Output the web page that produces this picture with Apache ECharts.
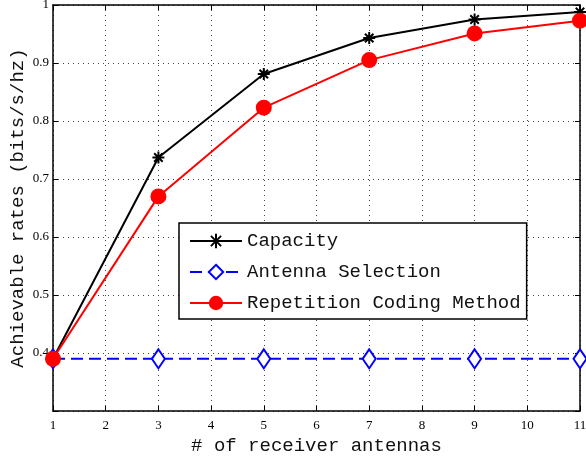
<!DOCTYPE html>
<html><head><meta charset="utf-8">
<script src="https://cdn.jsdelivr.net/npm/echarts@6/dist/echarts.min.js"></script>
<style>html,body{margin:0;padding:0;background:#fff}#c{width:586px;height:460px}</style>
</head><body><div id="c"></div>
<script>
const antennas = [1, 3, 5, 7, 9, 11];
const capacity = [0.39, 0.737, 0.881, 0.943, 0.975, 0.988];
const antennaSelection = [0.39, 0.39, 0.39, 0.39, 0.39, 0.39];
const repetitionCoding = [0.39, 0.670, 0.823, 0.905, 0.951, 0.973];
const xTicks = [1, 2, 3, 4, 5, 6, 7, 8, 9, 10, 11];
const yTicks = [0.3, 0.4, 0.5, 0.6, 0.7, 0.8, 0.9, 1];

const pair = (ys) => antennas.map((x, i) => [x, ys[i]]);
const mono = 'Liberation Mono, Courier New, monospace';
const serif = 'Liberation Serif, Times New Roman, serif';
const star = 'path://M0,-10L0,10M-10,0L10,0M-7.07,-7.07L7.07,7.07M-7.07,7.07L7.07,-7.07';

const chart = echarts.init(document.getElementById('c'), null, {renderer: 'canvas'});
const axisCommon = {
  axisLine: {show: true, onZero: false, lineStyle: {color: '#000', width: 1.5}},
  axisTick: {show: true, inside: true, length: 5, lineStyle: {color: '#000'}},
};
chart.setOption({
  animation: false,
  backgroundColor: '#fff',
  grid: {left: 53, right: 6, top: 5, bottom: 49, containLabel: false, outerBoundsMode: 'none'},
  xAxis: [
    Object.assign({
      type: 'value', min: xTicks[0], max: xTicks[xTicks.length - 1], interval: 1,
      position: 'bottom',
      name: '# of receiver antennas', nameLocation: 'middle', nameGap: 23,
      nameTextStyle: {fontFamily: mono, fontSize: 19, color: '#111'},
      axisLabel: {fontFamily: serif, fontSize: 13, color: '#000', margin: 8},
      splitLine: {show: true, lineStyle: {color: '#444', type: [1, 4], width: 1}},
    }, axisCommon),
    Object.assign({
      type: 'value', min: xTicks[0], max: xTicks[xTicks.length - 1], interval: 1,
      position: 'top', axisLabel: {show: false}, splitLine: {show: false},
    }, axisCommon),
  ],
  yAxis: [
    Object.assign({
      type: 'value', min: yTicks[0], max: yTicks[yTicks.length - 1], interval: 0.1,
      position: 'left',
      name: 'Achievable rates (bits/s/hz)', nameLocation: 'middle', nameGap: 26,
      nameMoveOverlap: false,
      nameTextStyle: {fontFamily: mono, fontSize: 19, color: '#111'},
      axisLabel: {fontFamily: serif, fontSize: 13, color: '#000', margin: 4,
        formatter: (v) => (Math.abs(v - yTicks[0]) < 1e-9 ? '' : String(Math.round(v * 10) / 10))},
      splitLine: {show: true, lineStyle: {color: '#444', type: [1, 4], width: 1}},
    }, axisCommon),
    Object.assign({
      type: 'value', min: yTicks[0], max: yTicks[yTicks.length - 1], interval: 0.1,
      position: 'right', axisLabel: {show: false}, splitLine: {show: false},
    }, axisCommon),
  ],
  legend: {
    orient: 'vertical', left: 179, top: 223,
    backgroundColor: '#fff', borderColor: '#000', borderWidth: 1.5,
    padding: [8, 6, 6, 10], itemGap: 11, itemWidth: 52, itemHeight: 18,
    textStyle: {fontFamily: mono, fontSize: 19, color: '#111', lineHeight: 20},
    data: ['Capacity', 'Antenna Selection', 'Repetition Coding Method'],
  },
  series: [
    {
      name: 'Capacity', type: 'line', data: pair(capacity),
      symbol: star, symbolSize: 12, showAllSymbol: true,
      lineStyle: {color: '#000', width: 2},
      itemStyle: {color: '#000', borderColor: '#000', borderWidth: 2},
      z: 3,
    },
    {
      name: 'Antenna Selection', type: 'line', data: pair(antennaSelection),
      symbol: 'diamond', symbolSize: [13, 19], showAllSymbol: true,
      lineStyle: {color: '#0000ff', width: 2, type: [12, 6]},
      itemStyle: {color: '#fff', borderColor: '#0000ff', borderWidth: 2},
      z: 4,
    },
    {
      name: 'Repetition Coding Method', type: 'line', data: pair(repetitionCoding),
      symbol: 'circle', symbolSize: 16, showAllSymbol: true,
      lineStyle: {color: '#ff0000', width: 2},
      itemStyle: {color: '#ff0000', borderColor: '#ff0000', borderWidth: 0},
      z: 5,
    },
  ],
});
</script></body></html>
